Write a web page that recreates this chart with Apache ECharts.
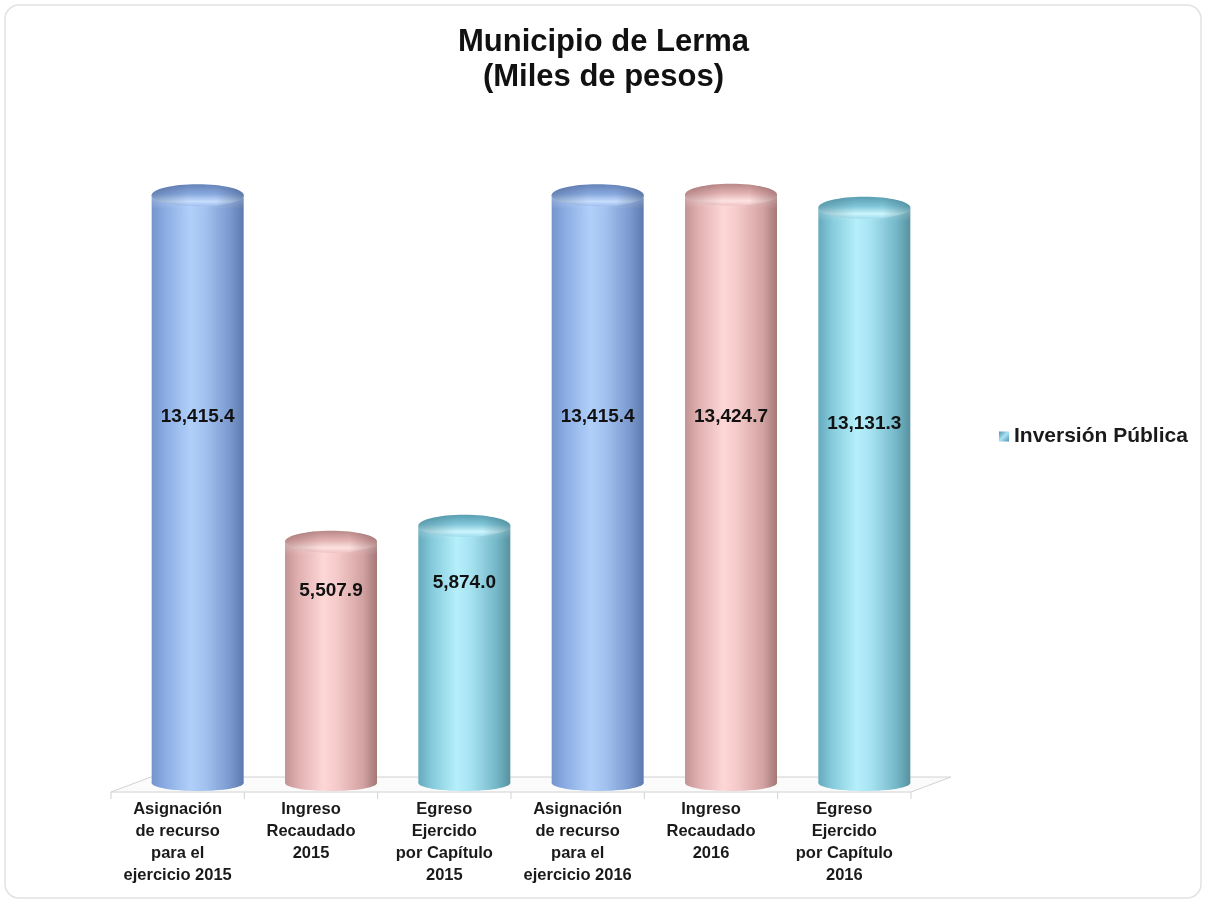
<!DOCTYPE html>
<html>
<head>
<meta charset="utf-8">
<title>Municipio de Lerma</title>
<script src="https://cdn.jsdelivr.net/npm/echarts@6/dist/echarts.min.js"></script>
<style>
  html, body { margin: 0; padding: 0; background: #ffffff; }
  #chart { width: 1207px; height: 905px; }
</style>
</head>
<body>
<div id="chart"></div>
<script>
// Categories shown along the floor of the chart
const categories = [
  'Asignación\nde recurso\npara el\nejercicio 2015',
  'Ingreso\nRecaudado\n2015',
  'Egreso\nEjercido\npor Capítulo\n2015',
  'Asignación\nde recurso\npara el\nejercicio 2016',
  'Ingreso\nRecaudado\n2016',
  'Egreso\nEjercido\npor Capítulo\n2016'
];
// Inversión Pública, miles de pesos
const values = [13415.4, 5507.9, 5874.0, 13415.4, 13424.7, 13131.3];
const seriesName = 'Inversión Pública';
const titleText = 'Municipio de Lerma\n(Miles de pesos)';

// Colour sets for the three kinds of column: asignación, ingreso, egreso
const palettes = [
  { // blue
    body: ['#7495cc', '#8cade3', '#b0cff9', '#a3c2f0', '#7a99cf', '#5e7aab'],
    cap: ['#6584b9', '#88a9df', '#c6defc', '#9fbeef'],
    shade: 'rgba(35,55,95,'
  },
  { // pink
    body: ['#c39494', '#e1b0b0', '#fdd7d7', '#f4c8c8', '#d2a1a1', '#a47878'],
    cap: ['#b88888', '#e4b4b4', '#fde2e2', '#f0c2c2'],
    shade: 'rgba(100,50,50,'
  },
  { // teal
    body: ['#64aabd', '#86cbdc', '#b6effb', '#a5e2f0', '#74b7c8', '#56919f'],
    cap: ['#599eb0', '#82c8da', '#cdf5fd', '#9ddcec'],
    shade: 'rgba(30,80,95,'
  }
];

function stops(colors) {
  const pos = colors.length === 6 ? [0, 0.15, 0.42, 0.58, 0.85, 1] : [0, 0.45, 0.78, 1];
  return colors.map((c, k) => ({ offset: pos[k], color: c }));
}

function fmt(v) {
  return v.toLocaleString('en-US', { minimumFractionDigits: 1, maximumFractionDigits: 1 });
}

// Draws one cylinder per category from its value
function renderCylinder(params, api) {
  const i = params.dataIndex;
  const v = api.value(1);
  const top = api.coord([i, v]);
  const base = api.coord([i, 0]);
  const w = api.size([1, 0])[0] * 0.69;
  const cx = top[0];
  const rx = w / 2;
  const pal = palettes[i % 3];
  const bodyFill = new echarts.graphic.LinearGradient(0, 0, 1, 0, stops(pal.body));
  const capFill = new echarts.graphic.LinearGradient(0, 0, 0, 1, stops(pal.cap));
  const capShade = new echarts.graphic.LinearGradient(0, 0, 1, 0, [
    { offset: 0, color: pal.shade + '0.30)' },
    { offset: 0.4, color: pal.shade + '0)' },
    { offset: 0.7, color: pal.shade + '0)' },
    { offset: 1, color: pal.shade + '0.40)' }
  ]);
  // soft light where the side bends into the rounded top
  const shoulder = new echarts.graphic.LinearGradient(0, 0, 0, 1, [
    { offset: 0, color: 'rgba(255,255,255,0.25)' },
    { offset: 1, color: 'rgba(255,255,255,0)' }
  ]);
  const ryTop = 11, ryBot = 8;
  return {
    type: 'group',
    children: [
      { type: 'ellipse', shape: { cx: cx, cy: base[1], rx: rx, ry: ryBot }, style: { fill: bodyFill } },
      { type: 'rect', shape: { x: cx - rx, y: top[1], width: w, height: base[1] - top[1] }, style: { fill: bodyFill } },
      { type: 'rect', shape: { x: cx - rx, y: top[1], width: w, height: 14 }, style: { fill: shoulder } },
      { type: 'ellipse', shape: { cx: cx, cy: top[1], rx: rx, ry: ryTop }, style: { fill: capFill } },
      { type: 'ellipse', shape: { cx: cx, cy: top[1], rx: rx, ry: ryTop }, style: { fill: capShade } },
      {
        type: 'text',
        style: {
          text: fmt(v),
          x: cx,
          y: (top[1] + base[1]) / 2 - 72,
          align: 'center',
          verticalAlign: 'middle',
          font: 'bold 19px "Liberation Sans", Arial, sans-serif',
          fill: '#111111'
        }
      }
    ]
  };
}

// Flat floor under the columns with separators between categories
function renderFloor(params, api) {
  const cs = params.coordSys;
  const y0 = api.coord([0, 0])[1];
  const yf = y0 + 9, yb = y0 - 6, dx = 20;
  const children = [{
    type: 'polygon',
    shape: { points: [[cs.x - dx, yf], [cs.x + cs.width - dx, yf], [cs.x + cs.width + dx, yb], [cs.x + dx, yb]] },
    style: { fill: '#fbfbfb', stroke: '#d2d2d2', lineWidth: 1 }
  }];
  const n = categories.length;
  for (let k = 0; k <= n; k++) {
    const x = cs.x - dx + k * cs.width / n;
    children.push({
      type: 'line',
      shape: { x1: x, y1: yf, x2: x, y2: yf + 7 },
      style: { stroke: '#d2d2d2', lineWidth: 1 }
    });
  }
  return { type: 'group', children: children };
}

const chart = echarts.init(document.getElementById('chart'), null, { renderer: 'canvas' });

chart.setOption({
  backgroundColor: '#ffffff',
  animation: false,
  graphic: [{
    type: 'rect',
    z: -10,
    shape: { x: 5, y: 5, width: 1196, height: 893, r: 14 },
    style: { fill: '#ffffff', stroke: '#e2e2e2', lineWidth: 1.5 }
  }],
  title: {
    text: titleText,
    left: 'center',
    top: 25,
    padding: 0,
    textStyle: {
      fontFamily: 'Liberation Sans, Arial, sans-serif',
      fontSize: 31,
      fontWeight: 'bold',
      lineHeight: 35,
      color: '#111111'
    }
  },
  legend: {
    data: [seriesName],
    left: 994,
    top: 421,
    icon: 'rect',
    itemWidth: 10,
    itemHeight: 10,
    textStyle: {
      fontFamily: 'Liberation Sans, Arial, sans-serif',
      fontSize: 21,
      fontWeight: 'bold',
      color: '#1a1a1a'
    }
  },
  grid: { left: 131, right: 276, top: 82, bottom: 122 },
  xAxis: {
    type: 'category',
    data: categories,
    axisLine: { show: false },
    axisTick: { show: false },
    axisLabel: {
      interval: 0,
      margin: 15,
      fontFamily: 'Liberation Sans, Arial, sans-serif',
      fontSize: 16.5,
      fontWeight: 'bold',
      lineHeight: 22,
      color: '#1a1a1a',
      padding: [0, 40, 0, 0]
    }
  },
  yAxis: {
    type: 'value',
    min: 0,
    max: 16000,
    show: false,
    splitLine: { show: false }
  },
  series: [
    {
      name: 'floor',
      type: 'custom',
      silent: true,
      z: 1,
      renderItem: renderFloor,
      data: [[0, 0]]
    },
    {
      name: seriesName,
      type: 'custom',
      z: 3,
      itemStyle: {
        color: new echarts.graphic.LinearGradient(0, 0, 1, 1, [
          { offset: 0, color: '#4f8fb5' },
          { offset: 0.5, color: '#a9e3f3' },
          { offset: 1, color: '#4f8fb5' }
        ])
      },
      renderItem: renderCylinder,
      data: values.map((v, i) => [i, v])
    }
  ]
});
</script>
</body>
</html>
